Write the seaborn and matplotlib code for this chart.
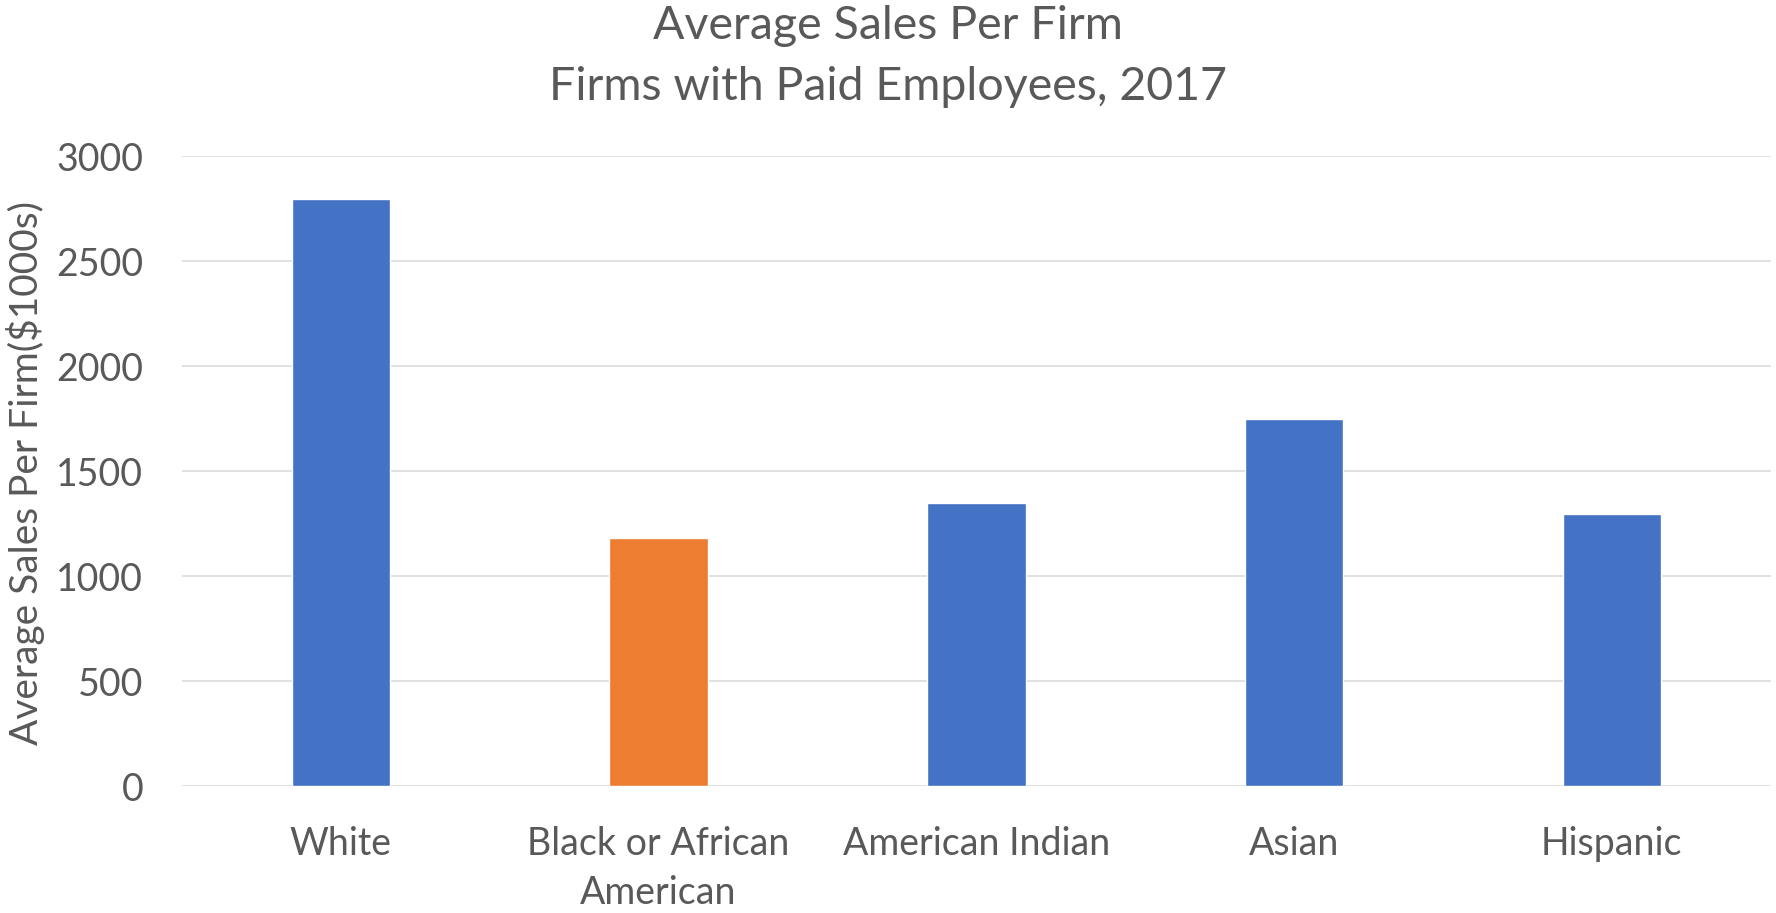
import matplotlib
matplotlib.use("Agg")
import matplotlib.pyplot as plt
import seaborn as sns
import pandas as pd

# Average sales per firm (thousands of dollars), firms with paid employees, 2017
groups = ["White", "Black or African\nAmerican", "American Indian", "Asian", "Hispanic"]
avg_sales = [2795, 1181, 1349, 1746, 1294]
bar_colors = ["#4472C4", "#ED7D31", "#4472C4", "#4472C4", "#4472C4"]
y_ticks = [0, 500, 1000, 1500, 2000, 2500, 3000]

title_lines = ["Average Sales Per Firm", "Firms with Paid Employees, 2017"]
y_label = "Average Sales Per Firm($1000s)"

TEXT = "#595959"
GRID = "#D9D9D9"

sns.set_theme(style="white")
plt.rcParams["font.family"] = ["Lato", "DejaVu Sans"]

df = pd.DataFrame({"group": groups, "sales": avg_sales})

fig = plt.figure(figsize=(17.76, 9.13), dpi=100)
ax = fig.add_axes([0.1025, 0.139, 0.8945, 0.690])

sns.barplot(data=df, x="group", y="sales", hue="group",
            palette=dict(zip(groups, bar_colors)), width=0.31,
            legend=False, ax=ax, saturation=1)

ax.set_ylim(0, 3000)
ax.set_yticks(y_ticks)
ax.set_yticklabels([str(t) for t in y_ticks])
ax.set_xlim(-0.5, len(groups) - 0.5)

ax.yaxis.grid(True, color=GRID, linewidth=1.1)
ax.set_axisbelow(True)
for s in ax.spines.values():
    s.set_visible(False)

ax.tick_params(axis="y", length=0, pad=28, labelsize=27, labelcolor=TEXT)
ax.tick_params(axis="x", length=0, pad=29, labelsize=27, labelcolor=TEXT)
for lbl in ax.get_xticklabels():
    lbl.set_linespacing(1.45)
    lbl.set_verticalalignment("top")

ax.set_xlabel("")
ax.set_ylabel(y_label, fontsize=28, color=TEXT)
ax.yaxis.set_label_coords(-0.086, 0.497)

fig.text(0.5, 0.972, title_lines[0], ha="center", va="center", fontsize=33.5, color=TEXT)
fig.text(0.5, 0.905, title_lines[1], ha="center", va="center", fontsize=33.5, color=TEXT)

fig.savefig("out.png", dpi=100)
